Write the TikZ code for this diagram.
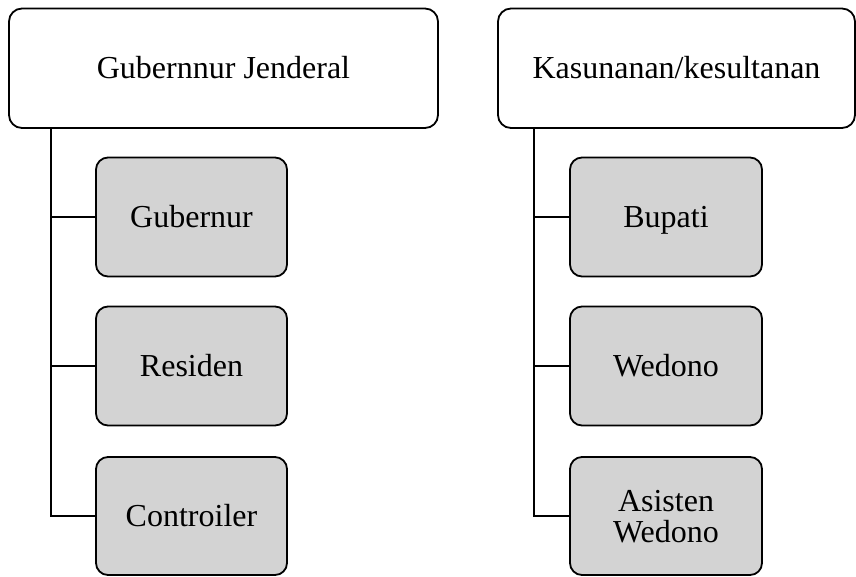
\documentclass[tikz,border=0pt]{standalone}
\usepackage{fontspec}
\setmainfont{Liberation Serif}
\begin{document}
\begin{tikzpicture}[x=1pt,y=-1pt,
  topbox/.style={draw,line width=1.8pt,rounded corners=13pt,fill=white,
    minimum height=119.5pt,inner sep=0pt,text height=21pt,text depth=0pt,
    font=\fontsize{32}{32}\selectfont},
  childbox/.style={draw,line width=1.8pt,rounded corners=12pt,fill=boxgray,
    minimum height=119pt,inner sep=0pt,align=center,text height=21pt,text depth=0pt,
    font=\fontsize{32}{31}\selectfont},
  conn/.style={line width=1.8pt}]
\definecolor{boxgray}{HTML}{D3D3D3}
\useasboundingbox (0,0) rectangle (856,576);
\node[topbox,minimum width=429pt] (gj) at (223.5,68.25) {Gubernnur Jenderal};
\node[topbox,minimum width=357pt] (ks) at (676.5,68.25) {Kasunanan/kesultanan};
\node[childbox,minimum width=191pt] (gub) at (191.5,217) {Gubernur};
\node[childbox,minimum width=191pt] (res) at (191.5,366) {Residen};
\node[childbox,minimum width=191pt,minimum height=118pt] (con) at (191.5,516) {Controiler};
\node[childbox,minimum width=192pt] (bup) at (666,217) {Bupati};
\node[childbox,minimum width=192pt] (wed) at (666,366) {Wedono};
\node[childbox,minimum width=192pt,minimum height=118pt,text height=52pt] (asw) at (666,516) {Asisten\\Wedono};
\coordinate (la) at ([xshift=43pt]gj.south west);
\coordinate (ra) at ([xshift=37pt]ks.south west);
\draw[conn] (la) |- (gub.west);
\draw[conn] (la) |- (res.west);
\draw[conn] (la) |- (con.west);
\draw[conn] (ra) |- (bup.west);
\draw[conn] (ra) |- (wed.west);
\draw[conn] (ra) |- (asw.west);
\end{tikzpicture}
\end{document}
